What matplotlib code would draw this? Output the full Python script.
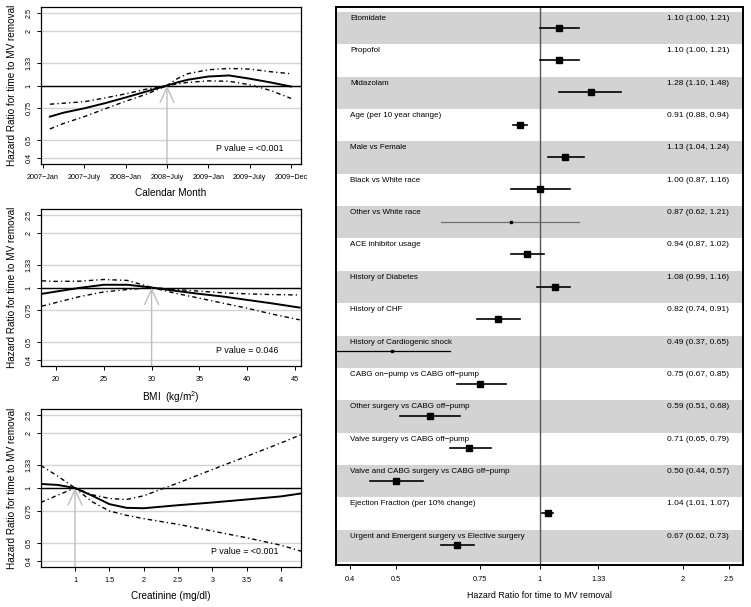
import numpy as np
import matplotlib
matplotlib.use('Agg')
import matplotlib.pyplot as plt

plt.rcParams['font.family'] = ['Liberation Sans', 'DejaVu Sans']
plt.rcParams['mathtext.fontset'] = 'custom'
plt.rcParams['mathtext.rm'] = 'Liberation Sans'
plt.rcParams['mathtext.it'] = 'Liberation Sans:italic'

# ---------------- data ----------------
hr_ticks = [0.4, 0.5, 0.75, 1, 1.33, 2, 2.5]
hr_tick_labels = ['0.4', '0.5', '0.75', '1', '1.33', '2', '2.5']

# Panel 1: calendar month (months since 2007-Jan)
month_x = [1, 3, 6, 9, 12, 15, 18, 19.5, 21, 24, 27, 30, 33, 36]
month_hr = [0.675, 0.71, 0.75, 0.80, 0.86, 0.927, 1.0, 1.04, 1.075, 1.12, 1.135, 1.09, 1.04, 0.987]
month_up = [0.79, 0.80, 0.815, 0.855, 0.90, 0.955, 1.0, 1.09, 1.16, 1.22, 1.24, 1.23, 1.19, 1.16]
month_lo = [0.578, 0.62, 0.675, 0.745, 0.82, 0.896, 1.0, 1.02, 1.04, 1.06, 1.055, 1.01, 0.94, 0.85]
month_ticks = [0, 6, 12, 18, 24, 30, 36]
month_tick_labels = ['2007\u2212Jan', '2007\u2212July', '2008\u2212Jan', '2008\u2212July',
                     '2009\u2212Jan', '2009\u2212July', '2009\u2212Dec']
month_ref = 18
month_p = 'P value = <0.001'

# Panel 2: BMI
bmi_x = [18.5, 20, 22.5, 25, 27.5, 30, 32.5, 35, 37.5, 40, 42.5, 45.5]
bmi_hr = [0.923, 0.95, 0.996, 1.035, 1.035, 1.0, 0.959, 0.923, 0.892, 0.855, 0.82, 0.776]
bmi_up = [1.088, 1.08, 1.083, 1.106, 1.093, 1.0, 0.975, 0.955, 0.935, 0.923, 0.915, 0.91]
bmi_lo = [0.79, 0.827, 0.892, 0.946, 0.975, 1.0, 0.93, 0.874, 0.82, 0.77, 0.717, 0.665]
bmi_ticks = [20, 25, 30, 35, 40, 45]
bmi_ref = 30
bmi_p = 'P value = 0.046'

# Panel 3: creatinine
cr_x = [0.5, 0.75, 1.0, 1.25, 1.5, 1.75, 2.0, 2.5, 3.0, 3.5, 4.0, 4.3]
cr_hr = [1.052, 1.039, 1.0, 0.908, 0.817, 0.78, 0.776, 0.806, 0.834, 0.866, 0.9, 0.935]
cr_up = [1.327, 1.159, 1.0, 0.919, 0.877, 0.866, 0.907, 1.065, 1.261, 1.487, 1.76, 1.957]
cr_lo = [0.834, 0.915, 1.0, 0.841, 0.75, 0.71, 0.681, 0.634, 0.583, 0.536, 0.488, 0.452]
cr_ticks = [1, 1.5, 2, 2.5, 3, 3.5, 4]
cr_tick_labels = ['1', '1.5', '2', '2.5', '3', '3.5', '4']
cr_ref = 1.0
cr_p = 'P value = <0.001'

# Forest plot
labels = ['Etomidate', 'Propofol', 'Midazolam', 'Age (per 10 year change)', 'Male vs Female',
          'Black vs White race', 'Other vs White race', 'ACE inhibitor usage',
          'History of Diabetes', 'History of CHF', 'History of Cardiogenic shock',
          'CABG on\u2212pump vs CABG off\u2212pump', 'Other surgery vs CABG off\u2212pump',
          'Valve surgery vs CABG off\u2212pump', 'Valve and CABG surgery vs CABG off\u2212pump',
          'Ejection Fraction (per 10% change)',
          'Urgent and Emergent surgery vs Elective surgery']
hr = [1.10, 1.10, 1.28, 0.91, 1.13, 1.00, 0.87, 0.94, 1.08, 0.82, 0.49, 0.75, 0.59, 0.71, 0.50, 1.04, 0.67]
lo = [1.00, 1.00, 1.10, 0.88, 1.04, 0.87, 0.62, 0.87, 0.99, 0.74, 0.37, 0.67, 0.51, 0.65, 0.44, 1.01, 0.62]
hi = [1.21, 1.21, 1.48, 0.94, 1.24, 1.16, 1.21, 1.02, 1.16, 0.91, 0.65, 0.85, 0.68, 0.79, 0.57, 1.07, 0.73]

# ---------------- figure ----------------
W, H = 751, 607
fig = plt.figure(figsize=(W / 100, H / 100), dpi=100)


def px_axes(left, top, right, bottom):
    return fig.add_axes([left / W, 1 - bottom / H, (right - left) / W, (bottom - top) / H])


ylim = (np.exp(-0.99), np.exp(0.99))
dashdot = (0, (3.2, 2.2, 0.9, 2.2))
grid_col = '#d3d3d3'
arrow_col = '#bdbdbd'
ylab = 'Hazard Ratio for time to MV removal'


def spline_panel(ax, x, est, up, lw_, ref, ptxt, ptx, xlim, xticks, xticklabels, xlabel):
    ax.set_yscale('log')
    ax.set_ylim(*ylim)
    ax.set_xlim(*xlim)
    for t in hr_ticks:
        ax.axhline(t, color=grid_col, lw=1.0, zorder=1)
    ax.axhline(1, color='black', lw=1.0, zorder=2)
    ax.annotate('', xy=(ref, 1), xytext=(ref, ylim[0]),
                arrowprops=dict(arrowstyle='->,head_length=1.1,head_width=0.5',
                                color=arrow_col, lw=1.0, mutation_scale=10,
                                shrinkA=0, shrinkB=0), zorder=2)
    ax.plot(x, est, color='black', lw=1.4, zorder=3, solid_joinstyle='round')
    ax.plot(x, up, color='black', lw=1.0, linestyle=dashdot, zorder=3)
    ax.plot(x, lw_, color='black', lw=1.0, linestyle=dashdot, zorder=3)
    ax.text(ptx, 0.10, ptxt, transform=ax.transAxes, fontsize=6.4, va='center', ha='left')
    ax.set_yticks(hr_ticks)
    ax.set_yticklabels(hr_tick_labels, rotation=90, va='center', fontsize=5.2)
    ax.minorticks_off()
    ax.set_xticks(xticks)
    ax.set_xticklabels(xticklabels, fontsize=5.2)
    ax.tick_params(axis='both', length=3, width=0.7, direction='out', color='black')
    ax.tick_params(axis='x', pad=4)
    ax.tick_params(axis='y', pad=3)
    for s in ax.spines.values():
        s.set_linewidth(0.9)
    ax.set_xlabel(xlabel, fontsize=7.2, labelpad=5)
    ax.set_ylabel(ylab, fontsize=7.2, labelpad=6)


ax1 = px_axes(40.7, 7, 301, 164)
spline_panel(ax1, month_x, month_hr, month_up, month_lo, month_ref, month_p, 0.675,
             (-0.33, 37.45), month_ticks, month_tick_labels, 'Calendar Month')

ax2 = px_axes(40.7, 209, 301, 366)
spline_panel(ax2, bmi_x, bmi_hr, bmi_up, bmi_lo, bmi_ref, bmi_p, 0.675,
             (18.4, 45.63), bmi_ticks, [str(t) for t in bmi_ticks], 'BMI  (kg/m$^2$)')

ax3 = px_axes(40.7, 409, 301, 567)
spline_panel(ax3, cr_x, cr_hr, cr_up, cr_lo, cr_ref, cr_p, 0.653,
             (0.5, 4.29), cr_ticks, cr_tick_labels, 'Creatinine (mg/dl)')

# ---------------- forest plot ----------------
axr = px_axes(336, 7, 743, 565)
n = len(labels)
axr.set_xscale('log')
axr.set_xlim(np.exp(-0.984), np.exp(0.984))
axr.set_ylim(n + 0.093, -0.155)
for i in range(n):
    if i % 2 == 0:
        axr.axhspan(i, i + 1, color='#d3d3d3', lw=0, zorder=0)
axr.axvline(1, color='#555555', lw=1.0, zorder=1)
for i in range(n):
    yc = i + 0.485
    wide = np.log(hi[i] / lo[i]) > 0.5
    if wide:
        col = '#707070' if lo[i] < 1 < hi[i] else 'black'
        axr.plot([lo[i], hi[i]], [yc, yc], color=col, lw=0.9, zorder=2)
        axr.plot([hr[i]], [yc], marker='s', ms=1.6, color='black', mec='black', zorder=3)
    else:
        axr.plot([lo[i], hi[i]], [yc, yc], color='black', lw=1.2, zorder=2)
        axr.plot([hr[i]], [yc], marker='s', ms=4.3, color='black', mec='black', zorder=3)
    axr.text(0.4, i + 0.2, labels[i], fontsize=5.75, ha='left', va='center', zorder=4)
    axr.text(2.5, i + 0.2, f'{hr[i]:.2f} ({lo[i]:.2f}, {hi[i]:.2f})', fontsize=6.0,
             ha='right', va='center', zorder=4)
axr.set_yticks([])
axr.set_xticks(hr_ticks)
axr.set_xticklabels(hr_tick_labels, fontsize=5.3)
axr.minorticks_off()
axr.tick_params(axis='x', length=3, width=0.7, direction='out', pad=5)
for s in axr.spines.values():
    s.set_linewidth(1.4)
axr.set_xlabel(ylab, fontsize=6.4, labelpad=6)

fig.savefig('out.png', dpi=100)
